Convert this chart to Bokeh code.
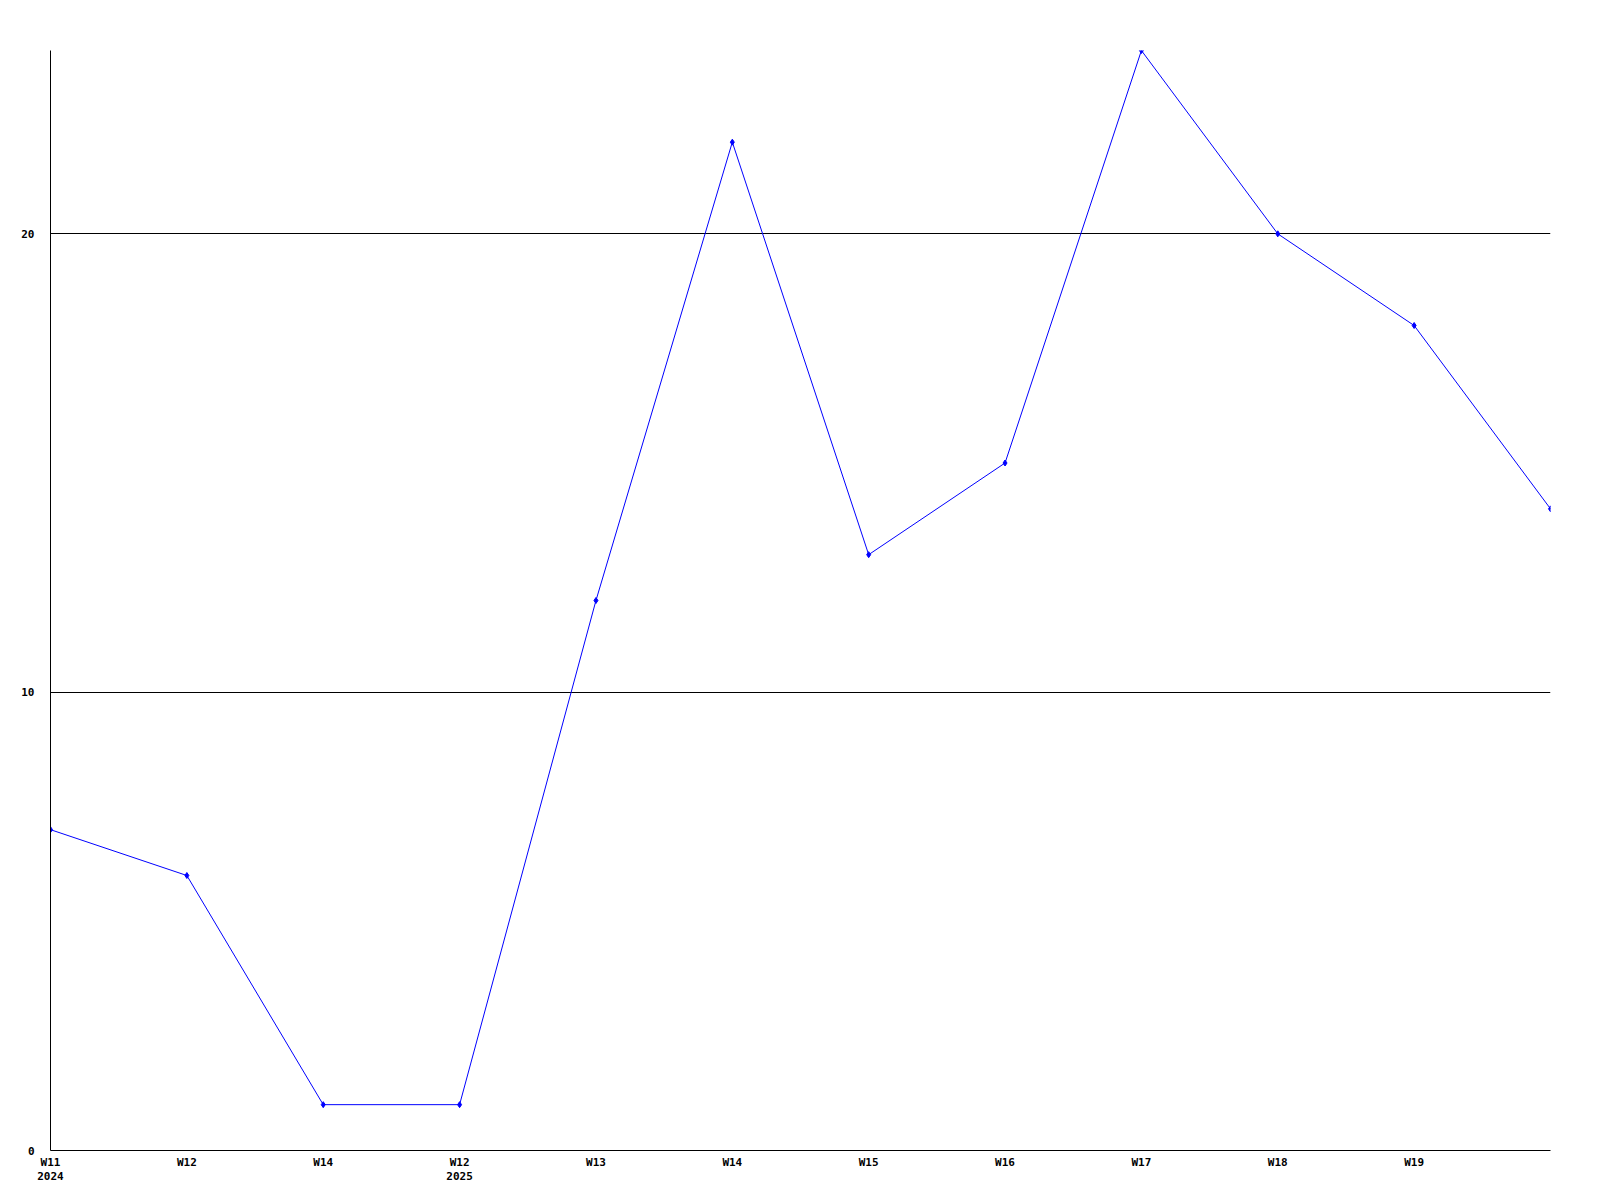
from bokeh.plotting import figure
from bokeh.models import FixedTicker, Range1d, LinearAxis
from bokeh.embed import file_html
from bokeh.resources import INLINE

# data
x_idx = list(range(12))
values = [7, 6, 1, 1, 12, 22, 13, 15, 24, 20, 18, 14]
week_labels = ["W11", "W12", "W14", "W12", "W13", "W14", "W15", "W16", "W17", "W18", "W19"]
year_pos = [0, 3]
year_labels = ["2024", "2025"]
y_ticks = [0, 10, 20]

FONT = "DejaVu Sans Mono"

p = figure(width=1570, height=1192, output_backend="svg", toolbar_location=None,
           x_range=Range1d(0, 11), y_range=Range1d(0, 24),
           min_border_left=50, min_border_top=50, min_border_right=20, min_border_bottom=42)
p.frame_width = 1500
p.frame_height = 1100
p.outline_line_color = None
p.background_fill_color = "white"
p.border_fill_color = "white"

p.xgrid.visible = False
p.ygrid.ticker = FixedTicker(ticks=[10, 20])
p.ygrid.grid_line_color = "black"
p.ygrid.grid_line_alpha = 1.0
p.ygrid.grid_line_width = 1


def style(ax):
    ax.major_tick_line_color = None
    ax.minor_tick_line_color = None
    ax.major_tick_out = 0
    ax.major_tick_in = 0
    ax.major_label_text_font = FONT
    ax.major_label_text_font_style = "bold"
    ax.major_label_text_font_size = "11px"
    ax.major_label_text_color = "black"


for ax in (p.xaxis[0], p.yaxis[0]):
    ax.axis_line_color = "black"
    style(ax)

p.xaxis.ticker = FixedTicker(ticks=list(range(len(week_labels))))
p.xaxis.major_label_overrides = {i: lab for i, lab in enumerate(week_labels)}
p.xaxis.major_label_standoff = 5
p.yaxis.ticker = FixedTicker(ticks=y_ticks)
p.yaxis.major_label_overrides = {t: str(t) for t in y_ticks}
p.yaxis.major_label_standoff = 16

year_axis = LinearAxis(ticker=FixedTicker(ticks=year_pos),
                       major_label_overrides={xp: yl for xp, yl in zip(year_pos, year_labels)})
style(year_axis)
year_axis.axis_line_color = None
year_axis.major_label_standoff = 0
p.add_layout(year_axis, "below")

p.line(x_idx, values, line_color="#0000ff", line_width=1)
p.scatter(x_idx, values, marker="diamond", size=6, fill_color="#0000ff", line_color="#0000ff")

open("out.html", "w").write(file_html(p, INLINE))
